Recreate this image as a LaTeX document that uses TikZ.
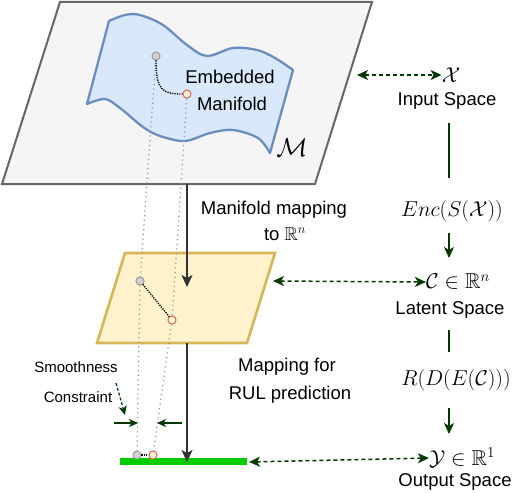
\documentclass[tikz,border=0pt]{standalone}
\usepackage{fix-cm}
\usepackage{amssymb}
\usepackage{fontspec}
\setmainfont{Liberation Sans}
\usetikzlibrary{arrows.meta}
\definecolor{dkgreen}{RGB}{0,56,0}
\definecolor{mfill}{HTML}{DAE8FC}
\definecolor{mline}{HTML}{6C8EBF}
\definecolor{yfill}{HTML}{FFF2CC}
\definecolor{yline}{HTML}{D6B656}
\definecolor{gfill}{HTML}{F5F5F5}
\definecolor{gline}{HTML}{666666}
\definecolor{barg}{HTML}{00CC00}
\definecolor{ptred}{HTML}{D0605A}
\tikzset{
  txt/.style={font=\fontsize{18.5}{22}\selectfont, inner sep=0pt, align=center},
  smalltxt/.style={font=\fontsize{15}{18}\selectfont, inner sep=0pt},
  mth/.style={font=\fontsize{21.5}{24}\selectfont, inner sep=0pt},
  gpt/.style={circle, inner sep=0pt, minimum size=8pt, line width=0.8pt, draw=black!40, fill=black!18},
  rpt/.style={circle, inner sep=0pt, minimum size=8pt, line width=0.8pt, draw=ptred, fill=yfill},
  proj/.style={draw=black!40, line width=1.3pt, dash pattern=on 1.2pt off 3.5pt},
  link/.style={draw=black, line width=1.4pt, dash pattern=on 1.2pt off 1.2pt},
  bigarrow/.style={draw=black!80, line width=1.5pt, -{Stealth[length=12pt,width=11pt,inset=3pt]}},
  gline/.style={draw=dkgreen, line width=1.4pt},
  garrow/.style={draw=dkgreen, line width=1.4pt, -{Stealth[length=11pt,width=10pt,inset=3pt]}},
  dblarrow/.style={draw=dkgreen, line width=1.5pt, dash pattern=on 4pt off 3pt, {Stealth[length=11pt,width=10pt,inset=3pt]}-{Stealth[length=11pt,width=10pt,inset=3pt]}},
  dashgarrow/.style={draw=dkgreen, line width=1.2pt, dash pattern=on 3pt off 2pt, -{Stealth[length=9pt,width=8pt,inset=2.5pt]}},
  dimarrow/.style={draw=dkgreen, line width=1.2pt, -{Stealth[length=9pt,width=8pt,inset=2.5pt]}}
}
\begin{document}
\begin{tikzpicture}[x=1pt,y=-1pt]
\useasboundingbox (0,0) rectangle (516,492);
% input space plane
\draw[fill=gfill, draw=gline, line width=2pt] (60,2) -- (372,2) -- (315,184) -- (2,184) -- cycle;
% manifold
\draw[fill=mfill, draw=mline, line width=2.3pt, line join=round]
  plot[smooth, tension=0.55] coordinates {(109,21)(125,15)(140,15)(163,25)(187,45)(207,56)(233,48)(257,50)(275,58)(293,70)}
  -- (270,153)
  -- plot[smooth, tension=0.55] coordinates {(270,153)(258,138)(233,130)(210,133)(185,141)(160,136)(143,127)(120,108)(105,99)(87,104)}
  -- cycle;
% latent plane
\draw[fill=yfill, draw=yline, line width=2.6pt] (125,253) -- (275,253) -- (247,343) -- (97,343) -- cycle;
% output bar
\fill[barg] (120,458) rectangle (247,465);
% coordinates
\coordinate (topBot) at (187,184);
\coordinate (latTopArr) at (187,287);
\coordinate (latBot) at (187,343);
\coordinate (barTop) at (187,462);
\coordinate (bigR) at (357,75);
\coordinate (latR) at (273,281);
\coordinate (barR) at (249,462);
% points
\node[gpt] (g1) at (156,56) {};
\node[rpt] (r1) at (187,94) {};
\node[gpt] (g2) at (140,281) {};
\node[rpt] (r2) at (172,320) {};
\node[gpt] (g3) at (137,455) {};
\node[rpt] (r3) at (153,455) {};
% projection lines
\draw[proj] (g1) -- (g2) -- (g3);
\draw[proj] (r1) -- (r2) -- (r3);
\node[gpt] at (g1) {};
\node[rpt] at (r1) {};
\node[gpt] at (g2) {};
\node[rpt] at (r2) {};
\node[gpt] at (g3) {};
\node[rpt] at (r3) {};
% links
\draw[link] (g1.south) .. controls +(0,30) and +(-20,0) .. (r1.west);
\draw[link] (g2) -- (r2);
\draw[link] (g3) -- (r3);
% main arrows
\draw[bigarrow] (topBot) -- (latTopArr);
\draw[bigarrow] (latBot) -- (barTop);
% texts on left
\node[txt] (emb) at (230,77) {Embedded};
\node[txt] (man) at (232,104) {Manifold};
\node[mth, font=\fontsize{26}{28}\selectfont] (M) at (292,148) {$\mathcal{M}$};
\node[txt] (mm1) at (274,210) {Manifold mapping};
\node[txt] (mm2) at (285,234) {to $\mathbb{R}^n$};
\node[txt] (rul1) at (287,367) {Mapping for};
\node[txt] (rul2) at (290,395) {RUL prediction};
\node[smalltxt] (sm1) at (76,367) {Smoothness};
\node[smalltxt] (sm2) at (78,397) {Constraint};
% smoothness arrows
\coordinate (sa1) at (116,383);
\coordinate (sa2) at (125,415);
\draw[dashgarrow] (sa1) -- (sa2);
\coordinate (dl1) at (114,423);
\coordinate (dl2) at (138,423);
\coordinate (dr1) at (182,423);
\coordinate (dr2) at (157,423);
\draw[dimarrow] (dl1) -- (dl2);
\draw[dimarrow] (dr1) -- (dr2);
% right column
\node[mth] (X) at (451,75) {$\mathcal{X}$};
\node[txt] (inp) at (447,101) {Input Space};
\node[mth] (enc) at (452,211) {$Enc(S(\mathcal{X}))$};
\node[mth] (C) at (458,282) {$\mathcal{C}\in\mathbb{R}^n$};
\node[txt] (lat) at (450,310) {Latent Space};
\node[mth] (rde) at (456,380) {$R(D(E(\mathcal{C})))$};
\node[mth] (Y) at (462,458) {$\mathcal{Y}\in\mathbb{R}^1$};
\node[txt] (out) at (455,482) {Output Space};
\coordinate (v1a) at (449,123);
\coordinate (v1b) at (449,178);
\coordinate (v2a) at (449,233);
\coordinate (v2b) at (449,258);
\coordinate (v3a) at (449,330);
\coordinate (v3b) at (449,352);
\coordinate (v4a) at (449,408);
\coordinate (v4b) at (449,434);
\draw[gline] (v1a) -- (v1b);
\draw[garrow] (v2a) -- (v2b);
\draw[gline] (v3a) -- (v3b);
\draw[garrow] (v4a) -- (v4b);
% dashed double arrows
\draw[dblarrow] (bigR) -- (X.west);
\draw[dblarrow] (latR) -- (C.west);
\draw[dblarrow] (barR) -- (Y.west);
\end{tikzpicture}
\end{document}
